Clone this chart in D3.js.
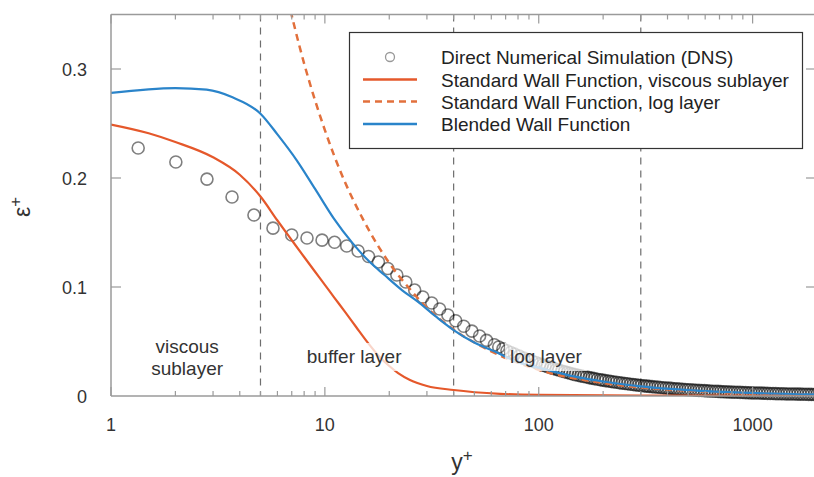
<!DOCTYPE html>
<html><head><meta charset="utf-8">
<script src="https://cdn.jsdelivr.net/npm/d3@7"></script>
<style>body{margin:0;background:#fff}svg text{font-family:"Liberation Sans",Arial,sans-serif}</style>
</head><body><svg id="c" width="814" height="477"></svg>
<script>
// ---- data ----
const xTicks = [1, 10, 100, 1000];
const xTickLabels = ["1", "10", "100", "1000"];
const yTicks = [0, 0.1, 0.2, 0.3];
const yTickLabels = ["0", "0.1", "0.2", "0.3"];
const regionBounds = [5, 40, 300];
const regionNames = [["viscous", "sublayer"], ["buffer layer"], ["log layer"]];
const regionAt = [2.27, 13.7, 108];

const dnsYplus = [1.34, 2.01, 2.81, 3.68, 4.66, 5.72, 7.0, 8.25, 9.7, 11.1, 12.65, 14.3, 16.0, 17.8, 19.7, 21.7, 23.9, 26.3, 28.7, 31.6, 34.4, 37.6, 40.9, 44.6, 48.7, 52.9, 57,
  62, 65, 68, 71, 74, 77, 81, 85, 89, 93, 97,
  101, 104, 107, 110, 114, 117, 121, 124, 128, 132, 136, 140, 144, 148, 153, 157, 162, 167, 172, 177, 182, 188, 194, 199, 205, 212, 218, 224, 231, 238, 245, 253, 260, 268, 276, 284, 293, 301, 311, 320, 329, 339, 349, 360, 371, 382, 393, 405, 417, 430, 443, 456, 470, 484, 498, 513, 529, 544, 561, 578, 595, 613, 631, 650, 670, 690, 710, 732, 754, 776, 799, 823, 848, 874, 900, 927, 955, 983, 1013, 1043, 1074, 1107, 1140, 1174, 1209, 1246, 1283, 1321, 1361, 1402, 1444, 1487, 1532, 1578, 1625, 1674, 1724, 1776, 1829, 1884, 1941, 1999, 2059];
const dnsEps = [0.2275, 0.2147, 0.199, 0.1826, 0.166, 0.154, 0.1477, 0.145, 0.143, 0.141, 0.1376, 0.133, 0.128, 0.123, 0.117, 0.111, 0.1046, 0.0972, 0.0908, 0.0853, 0.0798, 0.0743, 0.0690, 0.0640, 0.0595, 0.0550, 0.0510,
  0.0470, 0.0450, 0.0432, 0.0415, 0.0399, 0.0384, 0.0366, 0.0349, 0.0334, 0.0320, 0.0307,
  0.0295, 0.0286, 0.0278, 0.0270, 0.0260, 0.0253, 0.0244, 0.0238, 0.0230, 0.0222, 0.0215, 0.0209, 0.0202, 0.0196, 0.0190, 0.0185, 0.0179, 0.0174, 0.0169, 0.0164, 0.0159, 0.0154, 0.0149, 0.0146, 0.0141, 0.0137, 0.0133, 0.0129, 0.0126, 0.0122, 0.0118, 0.0115, 0.0112, 0.0108, 0.0105, 0.0102, 0.0099, 0.0096, 0.0093, 0.0091, 0.0088, 0.0086, 0.0083, 0.0081, 0.0078, 0.0076, 0.0074, 0.0072, 0.0070, 0.0067, 0.0065, 0.0064, 0.0062, 0.0060, 0.0058, 0.0057, 0.0055, 0.0053, 0.0052, 0.0050, 0.0049, 0.0047, 0.0046, 0.0044, 0.0043, 0.0042, 0.0040, 0.0039, 0.0038, 0.0037, 0.0036, 0.0035, 0.0034, 0.0033, 0.0032, 0.0031, 0.0030, 0.0029, 0.0028, 0.0027, 0.0027, 0.0026, 0.0025, 0.0024, 0.0023, 0.0023, 0.0022, 0.0021, 0.0021, 0.0020, 0.0019, 0.0019, 0.0018, 0.0018, 0.0017, 0.0017, 0.0016, 0.0016, 0.0015, 0.0015, 0.0014, 0.0014, 0.0014];

const viscYplus = [1, 1.5, 2, 3, 4, 5, 6, 7, 8, 9, 10, 11, 12.5, 14, 16, 18, 20, 22, 25, 30, 40, 66, 100, 300, 2000];
const viscEps = [0.249, 0.241, 0.233, 0.219, 0.203, 0.183, 0.161, 0.143, 0.1275, 0.114, 0.102, 0.091, 0.0765, 0.0633, 0.048, 0.036, 0.0275, 0.021, 0.0147, 0.0092, 0.0055, 0.002, 0.001, 0.0004, 0.0002];

const logYplus = [6.5, 8, 10, 12, 15, 20, 25, 30, 40, 60, 100, 200, 500, 1000, 2000];
const logEps = [0.375, 0.305, 0.244, 0.203, 0.163, 0.122, 0.098, 0.081, 0.061, 0.041, 0.024, 0.012, 0.0049, 0.0024, 0.0012];

const blendYplus = [1, 2, 2.8, 3.7, 5, 6, 7.4, 9, 11, 13.5, 16, 19, 23, 27, 33, 40, 50, 62, 80, 100, 150, 200, 300, 500, 1000, 2000];
const blendEps = [0.278, 0.2825, 0.281, 0.274, 0.259, 0.240, 0.216, 0.190, 0.163, 0.140, 0.124, 0.111, 0.097, 0.087, 0.073, 0.0605, 0.049, 0.041, 0.031, 0.026, 0.0175, 0.0133, 0.0089, 0.0054, 0.0028, 0.0014];

const legendLabels = ["Direct Numerical Simulation (DNS)", "Standard Wall Function, viscous sublayer", "Standard Wall Function, log layer", "Blended Wall Function"];

// ---- styles ----
const ORANGE = "#E5582B", ORANGE2 = "#E2703C", BLUE = "#2A84CA", AXIS = "#9a9a9a", TXT = "#333";

const svg = d3.select("#c");
const L = 111, R = 817, T = 14.5, B = 396;
const x = d3.scaleLog().domain([1, 2000]).range([L, R]);
const y = d3.scaleLinear().domain([0, 0.35]).range([B, T]);

const defs = svg.append("defs");
defs.append("clipPath").attr("id", "clip")
  .append("rect").attr("x", L).attr("y", T).attr("width", R - L).attr("height", B - T);
defs.append("clipPath").attr("id", "clipDots")
  .append("rect").attr("x", L).attr("y", T).attr("width", R - L).attr("height", B - T + 12);

// region boundaries
svg.append("g").selectAll("line").data(regionBounds).join("line")
  .attr("x1", d => x(d)).attr("x2", d => x(d)).attr("y1", T).attr("y2", B)
  .attr("stroke", "#6e6e6e").attr("stroke-width", 1.2).attr("stroke-dasharray", "7,6");

// DNS circles
const dns = dnsYplus.map((v, i) => [v, dnsEps[i]]);
svg.append("g").attr("clip-path", "url(#clipDots)").selectAll("circle").data(dns).join("circle")
  .attr("cx", d => x(d[0])).attr("cy", d => y(d[1])).attr("r", 6)
  .attr("fill", "none").attr("stroke", "#000").attr("stroke-opacity", 0.5).attr("stroke-width", 1.6);

const plot = svg.append("g").attr("clip-path", "url(#clip)");
const line = d3.line().x(d => x(d[0])).y(d => y(d[1])).curve(d3.curveMonotoneX);
const zip = (a, b) => a.map((v, i) => [v, b[i]]);

plot.append("path").datum(zip(viscYplus, viscEps)).attr("d", line)
  .attr("fill", "none").attr("stroke", ORANGE).attr("stroke-width", 2.2);
plot.append("path").datum(zip(logYplus, logEps)).attr("d", line)
  .attr("fill", "none").attr("stroke", ORANGE2).attr("stroke-width", 2.5).attr("stroke-dasharray", "7,5");
plot.append("path").datum(zip(blendYplus, blendEps)).attr("d", line)
  .attr("fill", "none").attr("stroke", BLUE).attr("stroke-width", 2.2);

// region labels
const rl = svg.append("g");
regionNames.forEach((lines, i) => {
  const cx = x(regionAt[i]);
  const g = rl.append("g");
  if (i > 0) {
    const w = i === 1 ? 100 : 82;
    g.append("rect").attr("x", cx - w / 2).attr("y", 343).attr("width", w).attr("height", 28)
      .attr("fill", "#fff").attr("fill-opacity", 0.75);
  }
  const base = lines.length === 2 ? 353 : 363;
  lines.forEach((t, j) => {
    g.append("text").attr("x", cx).attr("y", base + j * 22).attr("text-anchor", "middle")
      .attr("font-size", 19).attr("fill", TXT).text(t);
  });
});

// frame
const frame = svg.append("g").attr("stroke", AXIS).attr("stroke-width", 1.5).attr("fill", "none");
frame.append("line").attr("x1", L).attr("x2", R).attr("y1", B).attr("y2", B);
frame.append("line").attr("x1", L).attr("x2", R).attr("y1", T).attr("y2", T);
frame.append("line").attr("x1", L).attr("x2", L).attr("y1", T).attr("y2", B);
frame.append("line").attr("x1", R - 1).attr("x2", R - 1).attr("y1", T).attr("y2", B);

// ticks
const minor = [];
[1, 10, 100, 1000].forEach(d => { for (let k = 2; k <= 9; k++) if (d * k <= 2000) minor.push(d * k); });
const tk = svg.append("g").attr("stroke", AXIS).attr("stroke-width", 1.2);
minor.forEach(v => {
  tk.append("line").attr("x1", x(v)).attr("x2", x(v)).attr("y1", B).attr("y2", B - 5);
  tk.append("line").attr("x1", x(v)).attr("x2", x(v)).attr("y1", T).attr("y2", T + 5);
});
xTicks.forEach(v => {
  tk.append("line").attr("x1", x(v)).attr("x2", x(v)).attr("y1", B).attr("y2", B - 9);
  tk.append("line").attr("x1", x(v)).attr("x2", x(v)).attr("y1", T).attr("y2", T + 9);
});
yTicks.slice(1).forEach(v => {
  tk.append("line").attr("x1", L).attr("x2", L + 10).attr("y1", y(v)).attr("y2", y(v));
  tk.append("line").attr("x1", R - 1).attr("x2", R - 11).attr("y1", y(v)).attr("y2", y(v));
});

// tick labels
svg.append("g").selectAll("text").data(xTicks).join("text")
  .attr("x", d => x(d)).attr("y", 430.5).attr("text-anchor", "middle")
  .attr("font-size", 18).attr("fill", TXT).text((d, i) => xTickLabels[i]);
svg.append("g").selectAll("text").data(yTicks).join("text")
  .attr("x", 87).attr("y", d => y(d) + 6.5).attr("text-anchor", "end")
  .attr("font-size", 18).attr("fill", TXT).text((d, i) => yTickLabels[i]);

// axis titles
const xt = svg.append("text").attr("x", 462).attr("y", 470).attr("text-anchor", "middle")
  .attr("font-size", 23).attr("fill", TXT);
xt.append("tspan").text("y");
xt.append("tspan").attr("font-size", 17).attr("dy", -9).text("+");
const yt = svg.append("text").attr("transform", "translate(30,207) rotate(-90)").attr("text-anchor", "middle")
  .attr("font-size", 23).attr("fill", TXT);
yt.append("tspan").text("ε");
yt.append("tspan").attr("font-size", 17).attr("dy", -9).text("+");

// legend
const lg = svg.append("g");
lg.append("rect").attr("x", 349.5).attr("y", 32.5).attr("width", 453).attr("height", 116)
  .attr("fill", "#fff").attr("stroke", "#333").attr("stroke-width", 1.2);
const rowsY = [57, 79.5, 101.5, 124];
lg.append("circle").attr("cx", 390).attr("cy", rowsY[0]).attr("r", 4.5)
  .attr("fill", "none").attr("stroke", "#999").attr("stroke-width", 1.3);
const legStyles = [null, [ORANGE, null], [ORANGE2, "7,5"], [BLUE, null]];
[1, 2, 3].forEach(i => {
  lg.append("line").attr("x1", 363).attr("x2", 417).attr("y1", rowsY[i]).attr("y2", rowsY[i])
    .attr("stroke", legStyles[i][0]).attr("stroke-width", 2.3).attr("stroke-dasharray", legStyles[i][1]);
});
lg.selectAll("text.l").data(legendLabels).join("text").attr("class", "l")
  .attr("x", 441).attr("y", (d, i) => rowsY[i] + 7).attr("font-size", 19).attr("fill", "#222").text(d => d);
</script></body></html>
